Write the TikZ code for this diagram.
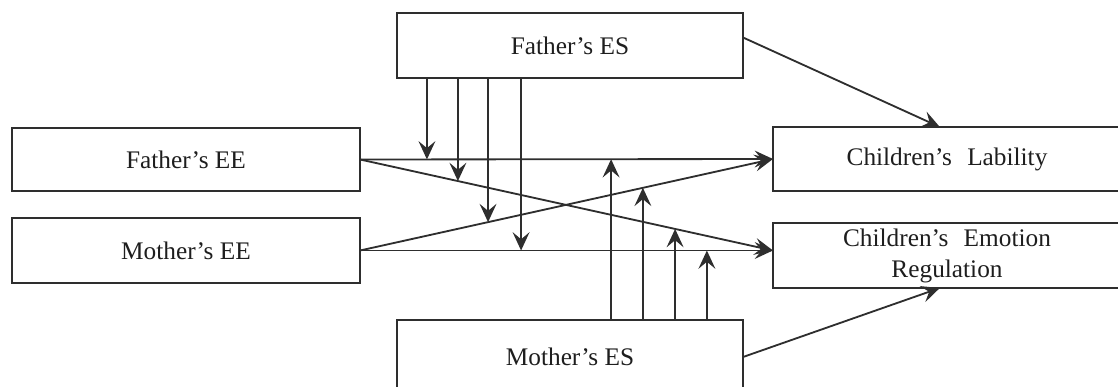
\documentclass[tikz,border=0pt]{standalone}
\usepackage{fontspec}
\setmainfont{Liberation Serif}
\usepackage{tikz}
\usetikzlibrary{arrows.meta, calc, positioning}
\definecolor{Ink}{HTML}{1E1E1E}
\definecolor{Frame}{HTML}{2E2E2E}
\tikzset{
  box/.style={draw=Frame, line width=1.4pt, inner sep=0pt, outer sep=0pt, text=Ink,
    font=\fontsize{18}{22}\selectfont, align=center},
  wide/.style={minimum width=8.7cm, minimum height=1.6cm},
  link/.style={-{Stealth[length=13pt, width=12pt, inset=5pt]}, line width=1.3pt, color=Frame},
}

\begin{document}
\begin{tikzpicture}[x=0.025cm, y=-0.025cm]
  \useasboundingbox (0,0) rectangle (1118,387);

  % Spouse boxes (top and bottom)
  \node[box, wide, minimum width=8.65cm, minimum height=1.625cm] (fes) at (570,45.5) {Father’s ES};
  \node[box, wide, minimum width=8.65cm, minimum height=1.85cm] (mes) at (570,357) {Mother’s ES};

  % Parent boxes
  \node[box, wide, minimum height=1.575cm] (fee) at (186,159.5) {Father’s EE};
  \node[box, wide, minimum height=1.625cm] (mee) at (186,250.5) {Mother’s EE};

  % Child outcomes
  \node[box, wide] (lab) at (947,159) {Children’s\hspace{0.6em}Lability};
  \node[box, wide, minimum height=1.625cm] (er) at (947,255.5) {Children’s\hspace{0.6em}Emotion\\Regulation};
  \coordinate (erin) at (mee.east -| er.west);

  % Direct paths
  \draw[link] (fee.east) -- coordinate[pos=0.162] (fa) coordinate[pos=0.608] (ma) (lab.west);
  \draw[link] (fee.east) -- coordinate[pos=0.237] (fb) coordinate[pos=0.763] (mc) (erin);
  \draw[link] (mee.east) -- coordinate[pos=0.310] (fc) coordinate[pos=0.685] (mb) (lab.west);
  \draw[link] (mee.east) -- coordinate[pos=0.390] (fd) coordinate[pos=0.840] (md) (erin);

  % Spouse effects on children
  \draw[link] ([yshift=0.2cm]fes.east) -- ([xshift=-0.18cm]lab.north);
  \draw[link] (mes.east) -- ([xshift=-0.18cm]er.south);

  % Moderation arrows
  \foreach \m in {fa,fb,fc,fd}{
    \draw[link] (fes.south -| \m) -- (\m);
  }
  \foreach \m in {ma,mb,mc,md}{
    \draw[link] (mes.north -| \m) -- (\m);
  }
\end{tikzpicture}
\end{document}
